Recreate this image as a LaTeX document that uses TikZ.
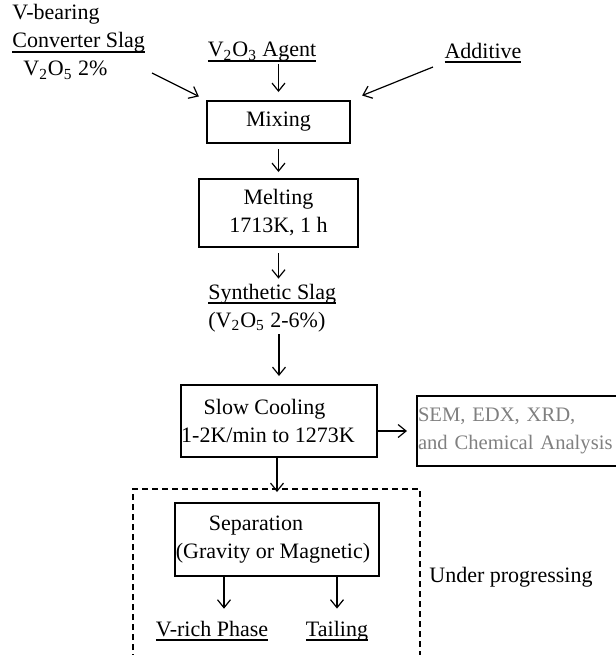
\documentclass[tikz,border=0pt]{standalone}
\usepackage{fontspec}
\setmainfont{Liberation Serif}
\usetikzlibrary{arrows.meta}
\newcommand\uln[1]{\setbox0\hbox{#1}\rlap{\rule[-2.3pt]{\wd0}{0.9pt}}\box0}
\newcommand\colx{278.5}

\begin{document}
\begin{tikzpicture}[x=0.5pt, y=-0.5pt,
    every node/.style={font=\fontsize{11}{14}\selectfont},
    txt/.style={inner sep=1pt},
    box/.style={draw, line width=1pt, align=center, inner sep=0pt},
    arr/.style={-{Straight Barb[length=4pt,width=6.5pt]}, line width=0.6pt}]

    \useasboundingbox (0,0) rectangle (616,655);

    % Raw materials
    \node at (10,42) [txt, anchor=west, align=left] (slag) {V-bearing\\ \uln{Converter Slag}\\ \hspace*{5.5pt}V\textsubscript{2}O\textsubscript{5} 2\%};
    \node at (262,52) [txt] (agent) {\uln{V\textsubscript{2}O\textsubscript{3} Agent}};
    \node at (483,53) [txt] (add) {\uln{Additive}};
    \coordinate (slag_end) at (152,73);
    \coordinate (add_end) at (433,67);

    % Mixing and melting
    \node at (\colx,122) [box, minimum width=71.5pt, minimum height=21pt] (mix) {Mixing};
    \node at (\colx,213) [box, minimum width=79.5pt, minimum height=34pt] (melt) {Melting\\1713K, 1 h};

    \draw[arr, shorten >=4pt] (slag_end) -- (mix.north west);
    \draw[arr, shorten >=4pt] (mix.north |- agent.south) -- (mix.north);
    \draw[arr, shorten >=6pt] (add_end) -- (mix.north east);
    \draw[arr, shorten <=2.5pt, shorten >=3pt] (mix.south) -- (melt.north);

    % Synthetic slag
    \node at (206,308) [txt, anchor=west, align=left] (synth) {\uln{Synthetic Slag}\\(V\textsubscript{2}O\textsubscript{5} 2-6\%)};

    \draw[arr, shorten <=2.5pt, shorten >=1.5pt] (melt.south) -- (melt.south |- synth.north);

    % Cooling
    \node at (279,421) [box, minimum width=98pt, minimum height=36pt] (cool) {Slow Cooling\hspace*{14.5pt}\\1-2K/min to 1273K\hspace*{11pt}};
    \node at (416,431) [draw, line width=1pt, text=gray, anchor=west, align=left, text width=106pt, inner xsep=0.5pt, minimum height=35pt, font=\fontsize{10.3}{14}\selectfont] (anal) {SEM, EDX, XRD,\\and Chemical Analysis};

    \draw[arr, shorten >=4pt] (cool.north |- synth.south) -- (cool.north);
    \draw[arr, shorten >=4.5pt] (anal.west -| cool.east) -- (anal.west);

    % Separation
    \draw[dash pattern=on 3pt off 2pt, line width=0.6pt] (133,660) -- (133,489) -- (420,489) -- (420,660);
    \node at (277,539.5) [box, minimum width=102pt, minimum height=36.5pt] (sep) {Separation\hspace*{21pt}\\(Gravity or Magnetic)\hspace*{4pt}};
    \node at (212,631) [txt] (vrich) {\uln{V-rich Phase}};
    \node at (337,631) [txt] (tail) {\uln{Tailing}};
    \node at (427,577) [txt, anchor=west] (prog) {Under progressing};
    \coordinate (sep_l) at (224,576);

    \draw[arr, shorten >=5pt] (sep.north |- cool.south) -- (sep.north);
    \draw[arr, shorten >=5pt] (sep_l) -- (sep_l |- vrich.north);
    \draw[arr, shorten >=5pt] (sep.south -| tail.north) -- (tail.north);

\end{tikzpicture}
\end{document}
